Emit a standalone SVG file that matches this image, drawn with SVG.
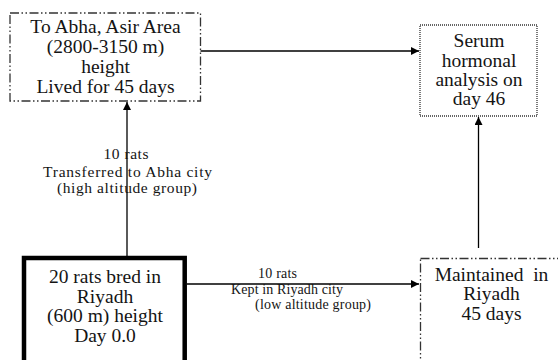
<svg xmlns="http://www.w3.org/2000/svg" width="558" height="360" viewBox="0 0 558 360">
<defs>
<marker id="arr" viewBox="0 0 10 10" refX="10" refY="5" markerWidth="9" markerHeight="8" markerUnits="userSpaceOnUse" orient="auto">
<path d="M0,0 L10,5 L0,10 Z" fill="#000"/>
</marker>
<style>
text{fill:#141414;text-anchor:middle}
.big{font-size:19.5px}
.mid{font-size:15.5px}
.sm{font-size:14px}
.dd{fill:none;stroke:#333;stroke-width:1.3;stroke-dasharray:9 2.5 1.5 2.5 1.5 2.5}
.dot{fill:none;stroke:#333;stroke-width:1.3;stroke-dasharray:1 1}
.thick{fill:none;stroke:#000;stroke-width:4.5}
.ln{fill:none;stroke:#000;stroke-width:1.3}
</style>
</defs>
<rect width="558" height="360" fill="#fff"/>
<g font-family="Liberation Serif, Times New Roman, serif">
<g id="connectors">
<line class="ln" x1="200.5" y1="51" x2="419" y2="51" marker-end="url(#arr)"/>
<line class="ln" x1="127" y1="256" x2="127" y2="102" marker-end="url(#arr)"/>
<line class="ln" x1="187" y1="284" x2="419" y2="284" marker-end="url(#arr)"/>
<line class="ln" x1="478.5" y1="248" x2="478.5" y2="117" marker-end="url(#arr)"/>
<g id="label-high">
<text class="mid" x="126" y="159.3" textLength="45" lengthAdjust="spacing">10 rats</text>
<text class="mid" x="127.5" y="176.7" textLength="169" lengthAdjust="spacing">Transferred to Abha city</text>
<text class="mid" x="127" y="192.7" textLength="140" lengthAdjust="spacing">(high altitude group)</text>
</g>
<g id="label-low">
<text class="sm" x="277.5" y="278.3" textLength="39" lengthAdjust="spacing">10 rats</text>
<text class="sm" x="287" y="294.3" textLength="112" lengthAdjust="spacing">Kept in Riyadh city</text>
<text class="sm" x="313" y="309" textLength="116" lengthAdjust="spacing">(low altitude group)</text>
</g>
</g>
<g id="node-abha">
<rect class="dd" x="10" y="13" width="190.5" height="88"/>
<text class="big" x="105.5" y="33">To Abha, Asir Area</text>
<text class="big" x="105.5" y="53">(2800-3150 m)</text>
<text class="big" x="105.5" y="73">height</text>
<text class="big" x="105.5" y="92.6">Lived for 45 days</text>
</g>
<g id="node-serum">
<rect class="dot" x="420" y="25" width="117" height="91"/>
<text class="big" x="479" y="47">Serum</text>
<text class="big" x="479" y="66.5">hormonal</text>
<text class="big" x="479" y="86">analysis on</text>
<text class="big" x="479" y="105">day 46</text>
</g>
<g id="node-riyadh">
<rect class="thick" x="24" y="258" width="160.7" height="120"/>
<text class="big" x="105" y="283">20 rats bred in</text>
<text class="big" x="105" y="302.5">Riyadh</text>
<text class="big" x="105" y="322">(600 m) height</text>
<text class="big" x="105" y="341.5">Day 0.0</text>
</g>
<g id="node-maintained">
<rect class="dd" x="420.5" y="258.5" width="160" height="120"/>
<text class="big" x="491.5" y="280.5" xml:space="preserve">Maintained  in</text>
<text class="big" x="491.5" y="300">Riyadh</text>
<text class="big" x="491.5" y="319.5">45 days</text>
</g>
</g>
</svg>
